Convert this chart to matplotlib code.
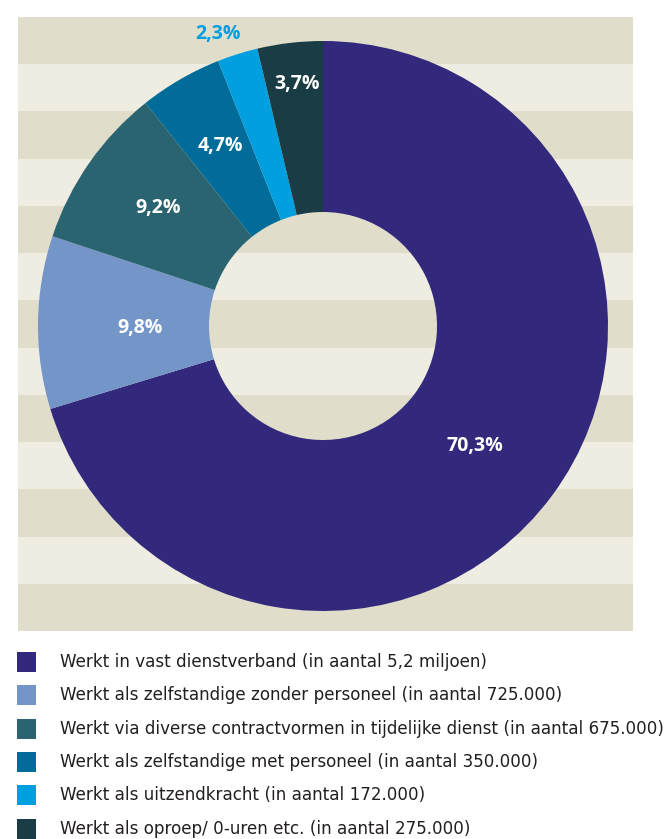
import numpy as np
import matplotlib.pyplot as plt
from matplotlib.patches import Rectangle

plt.rcParams['font.family'] = ['Open Sans', 'DejaVu Sans']

labels = [
    'Werkt in vast dienstverband (in aantal 5,2 miljoen)',
    'Werkt als zelfstandige zonder personeel (in aantal 725.000)',
    'Werkt via diverse contractvormen in tijdelijke dienst (in aantal 675.000)',
    'Werkt als zelfstandige met personeel (in aantal 350.000)',
    'Werkt als uitzendkracht (in aantal 172.000)',
    'Werkt als oproep/ 0-uren etc. (in aantal 275.000)',
]
percentages = [70.3, 9.8, 9.2, 4.7, 2.3, 3.7]
colors = ['#32297d', '#7495c8', '#2a6470', '#016b9a', '#009fe0', '#1a3c44']

W, H = 672, 839
fig = plt.figure(figsize=(W / 100, H / 100), dpi=100)
ax = fig.add_axes([0, 0, 1, 1])
ax.set_xlim(0, W)
ax.set_ylim(0, H)
ax.set_aspect('equal')
ax.axis('off')

# striped panel behind the donut (pixel rows, y measured from the top)
top, bottom, left, right = 17, 631, 18, 633
n_bands = 13
edges = np.linspace(top, bottom, n_bands + 1)
for i in range(n_bands):
    col = '#e0ddcb' if i % 2 == 0 else '#efece1'
    ax.add_patch(Rectangle((left, H - edges[i + 1]), right - left,
                           edges[i + 1] - edges[i], color=col, lw=0, zorder=0))

cx, cy = 323, H - 326
r_out, r_in = 285, 114
wedges, _ = ax.pie(percentages, colors=colors, startangle=90, counterclock=False,
                   center=(cx, cy), radius=r_out,
                   wedgeprops=dict(width=r_out - r_in, linewidth=0))
for w in wedges:
    w.set_zorder(2)
ax.set_xlim(0, W)
ax.set_ylim(0, H)

# percentage labels
label_pos = [(475, 446), (140, 328), (158, 208), (220, 146), (218, 34), (297, 84)]
label_col = ['white', 'white', 'white', 'white', '#009fe0', 'white']
for p, (x, y), c in zip(percentages, label_pos, label_col):
    ax.text(x, H - y, f'{p:.1f}%'.replace('.', ','), color=c, fontsize=14,
            fontweight='bold', ha='center', va='center', zorder=3)

# legend
row_y = [662, 695, 729, 762, 795, 829]
for lab, c, y in zip(labels, colors, row_y):
    ax.add_patch(Rectangle((17, H - y - 10), 19, 20, color=c, lw=0))
    ax.text(60, H - y, lab, fontsize=12.1, color='#231f20', ha='left', va='center',
            family='DejaVu Sans')

fig.savefig('out.png', dpi=100)
